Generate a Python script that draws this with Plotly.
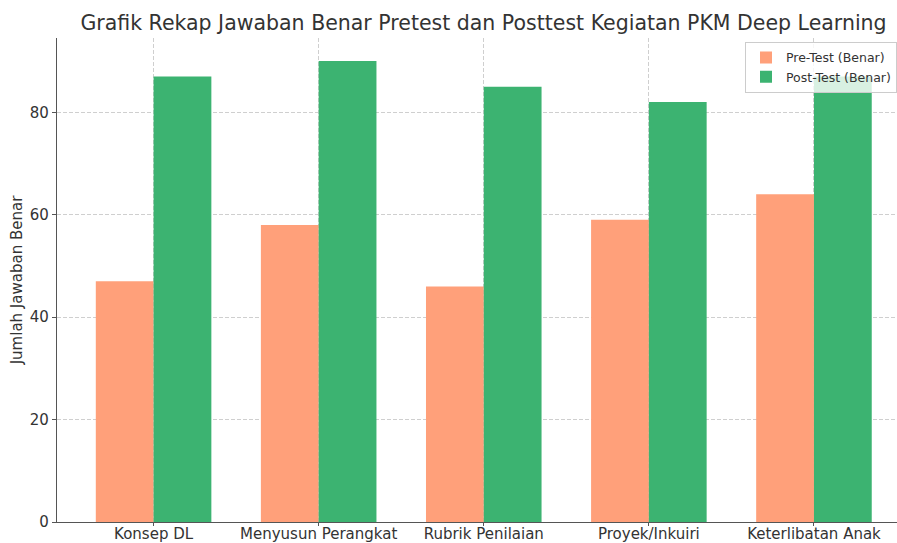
import plotly.graph_objects as go

categories = ["Konsep DL", "Menyusun Perangkat", "Rubrik Penilaian", "Proyek/Inkuiri", "Keterlibatan Anak"]
pre_test = [47, 58, 46, 59, 64]
post_test = [87, 90, 85, 82, 87]
y_ticks = [0, 20, 40, 60, 80]

fig = go.Figure()
fig.add_trace(go.Bar(x=categories, y=pre_test, name="Pre-Test (Benar)",
                     marker=dict(color="#FFA07A", line=dict(width=0))))
fig.add_trace(go.Bar(x=categories, y=post_test, name="Post-Test (Benar)",
                     marker=dict(color="#3CB371", line=dict(width=0))))

fig.update_layout(
    width=897, height=543,
    margin=dict(l=57, r=0, t=38, b=21, autoexpand=False),
    paper_bgcolor="white", plot_bgcolor="white",
    font=dict(family="DejaVu Sans", color="#333333"),
    barmode="group", bargap=0.3, bargroupgap=0,
    title=dict(text="Grafik Rekap Jawaban Benar Pretest dan Posttest Kegiatan PKM Deep Learning",
               x=(57 + 910) / 2 / 897, xanchor="center", y=0.958, yanchor="middle",
               font=dict(size=20.5, color="#333333")),
    legend=dict(x=1, y=0.992, xanchor="right", yanchor="top",
                bgcolor="rgba(255,255,255,0.8)", bordercolor="#cccccc", borderwidth=1,
                font=dict(size=12.5, color="#333333", family="DejaVu Sans")),
    showlegend=True,
)
fig.update_xaxes(
    type="category", range=[-0.585, 4.503], automargin=False,
    showline=True, linecolor="#555555", linewidth=1.2,
    ticks="outside", ticklen=3, tickcolor="#555555",
    showgrid=True, gridcolor="#cfcfcf", griddash="4px,2px", gridwidth=0.7,
    tickfont=dict(size=15, color="#333333"), ticklabelstandoff=-5,
)
fig.update_yaxes(
    range=[0, 94.5], tickvals=y_ticks, automargin=False,
    showline=True, linecolor="#555555", linewidth=1.2,
    ticks="outside", ticklen=4, tickcolor="#555555",
    showgrid=True, gridcolor="#cfcfcf", griddash="4px,2px", gridwidth=0.7,
    zeroline=False,
    tickfont=dict(size=15, color="#333333"),
    title=dict(text="Jumlah Jawaban Benar", font=dict(size=15, color="#333333"), standoff=3),
)

fig.write_html("out.html", config={"displayModeBar": False},
               post_script="document.body.style.margin='0';")
